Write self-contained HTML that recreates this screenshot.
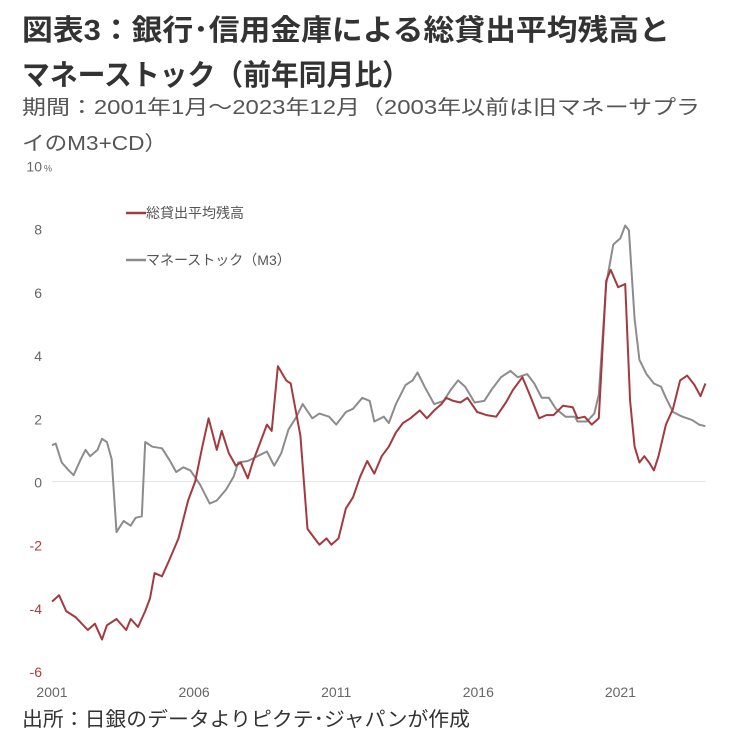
<!DOCTYPE html>
<html><head><meta charset="utf-8"><style>
html,body{margin:0;padding:0;background:#fff;}
svg{display:block;font-family:"Liberation Sans","Noto Sans CJK JP",sans-serif;}
</style></head><body>
<svg id="chart" width="745" height="735" viewBox="0 0 745 735" xmlns="http://www.w3.org/2000/svg">
<text x="22" y="40" font-size="29" font-weight="bold" fill="#333" textLength="648" lengthAdjust="spacingAndGlyphs">図表3：銀行･信用金庫による総貸出平均残高と</text>
<text x="22" y="85" font-size="29" font-weight="bold" fill="#333" textLength="388" lengthAdjust="spacingAndGlyphs">マネーストック（前年同月比）</text>
<text x="22" y="114" font-size="20" fill="#555" textLength="678" lengthAdjust="spacingAndGlyphs">期間：2001年1月～2023年12月（2003年以前は旧マネーサプラ</text>
<text x="22" y="150" font-size="20" fill="#555" textLength="145" lengthAdjust="spacingAndGlyphs">イのM3+CD）</text>
<text x="22" y="726" font-size="20" fill="#333" textLength="448" lengthAdjust="spacingAndGlyphs">出所：日銀のデータよりピクテ･ジャパンが作成</text>
<g id="plot"></g>
</svg>
<script>
const yTicks = [10, 8, 6, 4, 2, 0, -2, -4, -6];
const xTickYears = [2001, 2006, 2011, 2016, 2021];
const loanT = [0,.25,.50,.84,1.26,1.51,1.76,1.93,2.27,2.61,2.77,3.03,3.28,3.45,3.61,3.87,4.12,4.45,4.79,5.04,5.29,5.51,5.80,5.97,6.22,6.47,6.64,6.89,7.06,7.31,7.56,7.73,7.95,8.24,8.40,8.74,8.99,9.24,9.41,9.66,9.83,10.08,10.34,10.59,10.84,11.09,11.34,11.60,11.85,12.10,12.35,12.61,12.94,13.19,13.45,13.70,13.87,14.12,14.37,14.62,14.96,15.29,15.63,15.97,16.22,16.55,16.81,17.14,17.39,17.65,17.98,18.32,18.49,18.74,18.99,19.24,19.50,19.66,19.92,20.17,20.34,20.50,20.67,20.84,21.01,21.18,21.34,21.60,21.85,22.10,22.35,22.61,22.82,22.99];
const loanV = [-3.8,-3.6,-4.1,-4.3,-4.7,-4.5,-5.0,-4.55,-4.35,-4.7,-4.35,-4.6,-4.1,-3.7,-2.9,-3.0,-2.5,-1.8,-0.6,0,1.1,2.0,1.0,1.6,0.9,0.5,0.6,0.1,0.6,1.2,1.8,1.6,3.65,3.2,3.1,1.45,-1.5,-1.8,-2.0,-1.8,-2.0,-1.8,-0.85,-0.5,0.15,0.65,0.25,0.8,1.1,1.55,1.85,2.0,2.25,2.0,2.25,2.45,2.65,2.55,2.5,2.65,2.2,2.1,2.05,2.5,2.9,3.3,2.75,2.0,2.1,2.1,2.4,2.35,2.0,2.05,1.8,2.0,6.35,6.7,6.15,6.25,2.55,1.1,0.6,0.8,0.6,0.35,0.8,1.8,2.3,3.2,3.35,3.05,2.7,3.1];
const m3T = [0,.13,.34,.59,.76,1.01,1.18,1.34,1.60,1.76,1.93,2.10,2.27,2.52,2.77,2.94,3.16,3.28,3.53,3.87,4.12,4.37,4.62,4.87,5.21,5.55,5.80,6.13,6.39,6.55,6.89,7.23,7.56,7.82,8.07,8.32,8.57,8.82,9.16,9.41,9.75,10.0,10.34,10.59,10.92,11.18,11.34,11.68,11.85,12.10,12.44,12.69,12.86,13.11,13.45,13.78,14.03,14.29,14.54,14.87,15.21,15.46,15.80,16.13,16.39,16.72,16.97,17.23,17.48,17.73,18.07,18.40,18.49,18.82,19.08,19.24,19.50,19.75,20.0,20.17,20.30,20.50,20.67,20.92,21.18,21.43,21.60,21.85,22.18,22.52,22.77,22.99];
const m3V = [1.15,1.2,0.6,0.35,0.2,0.7,1.0,0.8,1.0,1.35,1.25,0.7,-1.6,-1.25,-1.4,-1.15,-1.1,1.25,1.1,1.05,0.7,0.3,0.45,0.35,-0.1,-0.7,-0.6,-0.25,0.15,0.6,0.65,0.8,0.95,0.5,0.9,1.65,2.0,2.45,2.0,2.15,2.05,1.8,2.2,2.3,2.65,2.55,1.9,2.05,1.85,2.45,3.05,3.2,3.45,3.0,2.45,2.55,2.9,3.2,3.0,2.5,2.55,2.9,3.3,3.5,3.3,3.4,3.1,2.65,2.65,2.3,2.05,2.05,1.9,1.9,2.15,2.75,6.25,7.5,7.7,8.1,7.95,5.15,3.85,3.4,3.1,3.0,2.65,2.2,2.05,1.95,1.8,1.75];

const NS = 'http://www.w3.org/2000/svg';
const plot = document.getElementById('plot');
const X0 = 52, PXY = 28.42, Y0 = 481.5, PXU = 31.6;
function xs(t){ return X0 + t * PXY; }
function ys(v){ return Y0 - v * PXU; }
function mk(tag, attrs){ const e = document.createElementNS(NS, tag); for (const k in attrs) e.setAttribute(k, attrs[k]); plot.appendChild(e); return e; }

const zl = mk('line', {x1: xs(0), x2: xs(23), y1: ys(0), y2: ys(0), stroke: '#e6e6e6', 'stroke-width': 1});



yTicks.forEach(v => {
  const t = mk('text', {x: 42, y: ys(v) + 6, 'font-size': 14, 'text-anchor': 'end', fill: v < 0 ? '#b03a3a' : '#666'});
  t.textContent = String(v);
  
  
});
const pct = mk('text', {x: 44, y: ys(10) + 6, 'font-size': 9, fill: '#666'});
pct.textContent = '%';



xTickYears.forEach(yr => {
  const t = mk('text', {x: xs(yr - 2001), y: 697, 'font-size': 14, 'text-anchor': 'middle', fill: '#666'});
  t.textContent = String(yr);
  
  
});

function series(T, V, color, name){
  const d = T.map((t, i) => (i ? 'L' : 'M') + xs(t).toFixed(1) + ' ' + ys(V[i]).toFixed(1)).join(' ');
  const p = mk('path', {d: d, fill: 'none', stroke: color, 'stroke-width': 2, 'stroke-linejoin': 'round'});
  
  
}
series(m3T, m3V, '#8c8c8c', 'money-stock-line');
series(loanT, loanV, '#a33a3f', 'loan-balance-line');

[['#a33a3f', '総貸出平均残高', 213, 'legend-entry-loans'], ['#8c8c8c', 'マネーストック（M3）', 260, 'legend-entry-m3']].forEach(([c, label, y, nm]) => {
  const l = mk('line', {x1: 126, x2: 146, y1: y, y2: y, stroke: c, 'stroke-width': 2.5});
  
  
  const t = mk('text', {x: 146, y: y + 5, 'font-size': 14, fill: '#555'});
  t.textContent = label;
  
  
});
</script>
</body></html>
